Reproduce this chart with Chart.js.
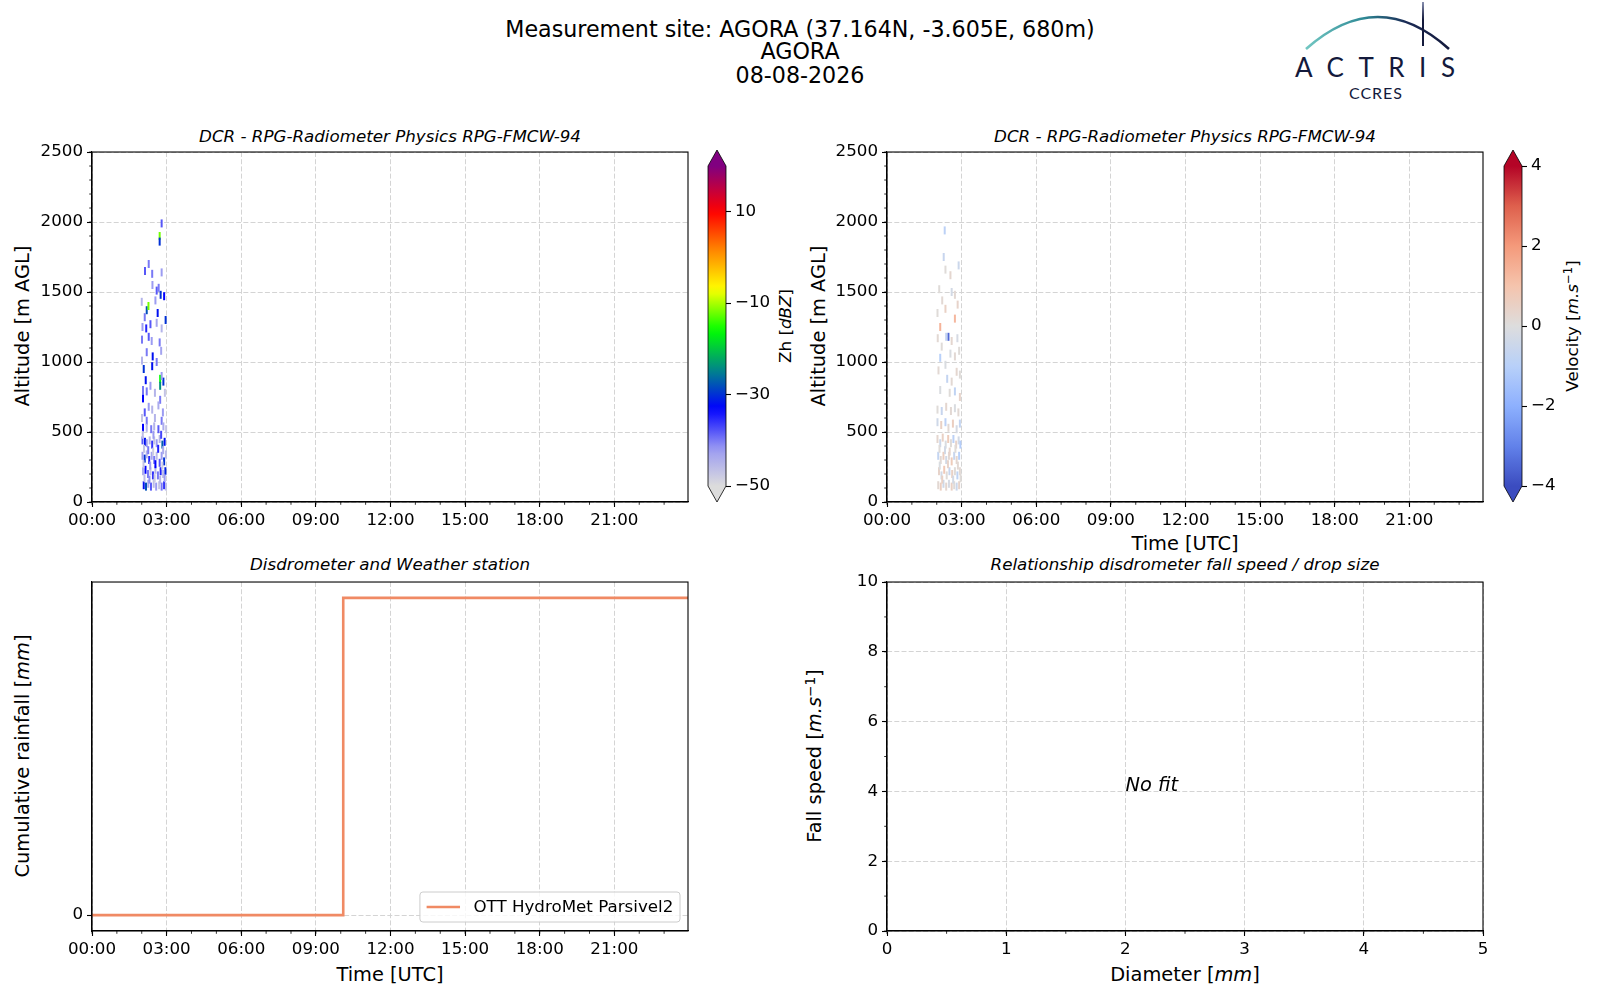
<!DOCTYPE html>
<html>
<head>
<meta charset="utf-8">
<script src="https://cdn.jsdelivr.net/npm/chart.js@4.4.1/dist/chart.umd.min.js"></script>
<style>
body { margin: 0; background: #fff; font-family: "DejaVu Sans", sans-serif; }
#page { position: relative; width: 1600px; height: 1000px; overflow: hidden; background: #fff; }
canvas { position: absolute; }
.t { position: absolute; white-space: nowrap; color: #000; line-height: 1; transform: translate(-50%, -50%); }
.r { transform: translate(-50%, -50%) rotate(-90deg); }
.ttl { font-size: 16.7px; font-style: italic; }
.lab { font-size: 19.4px; }
.big { font-size: 22.2px; }
sup { font-size: 70%; vertical-align: 0.45em; line-height: 0; }
</style>
</head>
<body>
<div id="page">
  <div class="t big" style="left:800px;top:29px">Measurement site: AGORA (37.164N, -3.605E, 680m)</div>
  <div class="t big" style="left:800px;top:50.5px">AGORA</div>
  <div class="t big" style="left:800px;top:75px">08-08-2026</div>

  <svg style="position:absolute;left:1282px;top:0" width="190" height="110" viewBox="0 0 190 110">
    <defs>
      <linearGradient id="arcG" x1="24" y1="0" x2="167" y2="0" gradientUnits="userSpaceOnUse">
        <stop offset="0" stop-color="#72c7c2"/>
        <stop offset="0.4" stop-color="#2f8a96"/>
        <stop offset="0.7" stop-color="#1a2a55"/>
        <stop offset="1" stop-color="#141a3c"/>
      </linearGradient>
      <linearGradient id="barG" x1="0" y1="2" x2="0" y2="46" gradientUnits="userSpaceOnUse">
        <stop offset="0" stop-color="#8890b0"/>
        <stop offset="0.4" stop-color="#141a3c"/>
      </linearGradient>
    </defs>
    <path d="M24 49 Q96 -15 167 49" fill="none" stroke="url(#arcG)" stroke-width="2.6"/>
    <line x1="141" y1="2" x2="141" y2="46" stroke="url(#barG)" stroke-width="2"/>
    <text x="13" y="77" font-family="Lato, 'Noto Sans', sans-serif" font-size="26" fill="#141a3c" textLength="160" lengthAdjust="spacing">ACTRIS</text>
    <text x="67" y="99" font-family="Lato, 'Noto Sans', sans-serif" font-size="16" fill="#141a3c" textLength="53" lengthAdjust="spacing">CCRES</text>
  </svg>

  <div class="t ttl" style="left:390px;top:135.5px">DCR - RPG-Radiometer Physics RPG-FMCW-94</div>
  <div class="t ttl" style="left:1185px;top:135.5px">DCR - RPG-Radiometer Physics RPG-FMCW-94</div>
  <div class="t ttl" style="left:390px;top:564px">Disdrometer and Weather station</div>
  <div class="t ttl" style="left:1185px;top:564px">Relationship disdrometer fall speed / drop size</div>

  <div class="t r lab" style="left:23px;top:326px">Altitude [m AGL]</div>
  <div class="t r lab" style="left:819px;top:326px">Altitude [m AGL]</div>
  <div class="t r lab" style="left:23px;top:756px">Cumulative rainfall [<i>mm</i>]</div>
  <div class="t r lab" style="left:815px;top:756px">Fall speed [<i>m.s</i><sup>−1</sup>]</div>
  <div class="t r lab" style="left:785px;top:326px;font-size:16.7px">Zh [<i>dBZ</i>]</div>
  <div class="t r lab" style="left:1572px;top:326px;font-size:16.7px">Velocity [<i>m.s</i><sup>−1</sup>]</div>
  <div class="t lab" style="left:1185px;top:544px">Time [UTC]</div>
  <div class="t lab" style="left:390px;top:975px">Time [UTC]</div>
  <div class="t lab" style="left:1185px;top:975px">Diameter [<i>mm</i>]</div>

  <canvas id="zhChart"></canvas>
  <canvas id="zhBar"></canvas>
  <canvas id="velChart"></canvas>
  <canvas id="velBar"></canvas>
  <canvas id="rainChart"></canvas>
  <canvas id="fallChart"></canvas>
</div>

<script>
// ---- data ----
// radar cells: time (hours UTC), altitude (m AGL), value
const zhTime = [
  2.80, 2.72, 2.72, 2.28, 2.13, 2.42, 2.80, 2.43, 2.68, 2.60,
  2.76, 2.90, 2.00, 2.20, 2.27, 2.55, 2.64, 2.12, 2.96, 2.03,
  2.18, 2.35, 2.60, 2.80, 2.01, 2.28, 2.40, 2.72, 2.20, 2.44,
  2.78, 2.01, 2.08, 2.42, 2.60, 2.74, 2.74, 2.87, 2.80, 2.16,
  2.35, 2.05, 2.05, 2.20, 2.53, 2.74, 2.93, 2.12, 2.28, 2.42,
  2.67, 2.85, 2.01, 2.20, 2.53, 2.80, 2.05, 2.20, 2.38, 2.50,
  2.67, 2.87, 2.98,
  2.03, 2.13, 2.20, 2.32, 2.42, 2.50, 2.60, 2.72, 2.83, 2.92,
  2.03, 2.12, 2.20, 2.30, 2.40, 2.50, 2.60, 2.72, 2.80, 2.90, 2.97,
  2.05, 2.15, 2.25, 2.35, 2.45, 2.55, 2.65, 2.76, 2.86, 2.95,
  2.08, 2.17, 2.26, 2.37, 2.48, 2.58, 2.70, 2.80, 2.90, 2.97,
  2.09, 2.26, 2.46, 2.66, 2.86, 2.07, 2.34, 2.55, 2.83, 2.11,
  2.31, 2.52, 2.74, 2.92, 2.04, 2.47, 2.78
];
const zhAlt = [
  1990, 1900, 1860, 1700, 1650, 1630, 1640, 1550, 1530, 1510,
  1480, 1470, 1430, 1370, 1400, 1440, 1350, 1320, 1300, 1250,
  1240, 1270, 1280, 1240, 1160, 1180, 1150, 1140, 1070, 1040,
  1080, 1010, 950, 970, 1000, 880, 830, 860, 900, 870,
  830, 800, 740, 790, 780, 730, 780, 640, 680, 660,
  690, 640, 600, 580, 600, 580, 530, 530, 520, 540,
  520, 540, 520,
  440, 430, 420, 440, 410, 440, 420, 450, 410, 430,
  330, 310, 340, 300, 330, 300, 330, 280, 330, 290, 340,
  220, 230, 200, 220, 190, 230, 190, 220, 200, 220,
  120, 110, 130, 110, 130, 110, 120, 110, 120, 110,
  380, 370, 360, 380, 370, 270, 260, 270, 260, 170,
  160, 170, 160, 170, 480, 480, 480
];
const zhVal = [
  -38, -12, -30, -40, -38, -40, -42, -42, -40, -38,
  -30, -33, -45, -28, -12, -42, -32, -40, -30, -42,
  -35, -38, -43, -45, -40, -38, -42, -40, -40, -32,
  -43, -45, -30, -32, -40, -16, -24, -30, -42, -32,
  -42, -40, -33, -40, -45, -40, -47, -38, -42, -45,
  -44, -42, -47, -40, -45, -40, -33, -45, -40, -45,
  -38, -44, -47,
  -38, -32, -42, -45, -36, -47, -42, -45, -27, -32,
  -42, -30, -45, -35, -43, -40, -46, -38, -42, -30, -46,
  -44, -33, -40, -47, -36, -45, -40, -35, -46, -31,
  -32, -28, -44, -38, -46, -42, -47, -40, -35, -46,
  -47, -40, -48, -35, -44, -47, -42, -33, -48, -46,
  -41, -48, -45, -42, -46, -42, -37
];

const velTime = [
  2.32, 2.28, 2.88, 2.55, 2.35, 2.10, 2.60, 2.73, 2.22, 2.84,
  2.03, 2.35, 2.73, 2.14, 2.47, 2.38, 2.04, 2.60, 2.83, 2.20,
  2.14, 2.55, 2.73, 2.90, 2.07, 2.35, 2.80, 2.93, 2.42, 2.60,
  2.14, 2.52, 2.73, 2.93, 2.03, 2.20, 2.38, 2.57, 2.73, 2.87,
  2.03, 2.18, 2.35, 2.47, 2.65, 2.80, 2.93,
  2.03, 2.14, 2.24, 2.36, 2.46, 2.57, 2.67, 2.78, 2.88, 2.95,
  2.06, 2.16, 2.27, 2.38, 2.49, 2.60, 2.70, 2.80, 2.90,
  2.09, 2.19, 2.30, 2.40, 2.51, 2.62, 2.73, 2.83, 2.93,
  2.06, 2.16, 2.27, 2.38, 2.49, 2.60, 2.70, 2.80, 2.90,
  2.11, 2.33, 2.52, 2.75, 2.85, 2.12, 2.45, 2.66, 2.22, 2.96
];
const velAlt = [
  1940, 1750, 1690, 1620, 1660, 1520, 1500, 1480, 1440, 1410,
  1350, 1380, 1310, 1250, 1180, 1180, 1170, 1150, 1170, 1110,
  1030, 1060, 1040, 1080, 940, 980, 930, 910, 880, 860,
  800, 780, 790, 750, 660, 650, 680, 650, 670, 640,
  570, 550, 570, 530, 560, 520, 560,
  450, 420, 460, 410, 450, 420, 450, 410, 440, 410,
  330, 300, 330, 300, 330, 290, 330, 300, 330,
  220, 190, 230, 190, 220, 200, 220, 190, 220,
  120, 110, 130, 110, 130, 110, 120, 110, 120,
  380, 370, 360, 380, 260, 260, 270, 160, 160, 170
];
const velVal = [
  -0.9, -0.6, -0.5, 0.3, 0.1, 0.1, -0.3, 0.2, 0.2, 0.4,
  0.1, 0.5, 1.3, 1.4, -3.5, -0.7, 0.2, 0.3, -0.2, 0.1,
  -1.0, -0.1, 0.2, 0.1, 0.2, -0.1, 0.3, 0.1, -0.7, 0.2,
  -0.1, 0.1, -0.8, 0.4, 0.1, -0.6, 0.3, 0.2, -0.1, 0.2,
  -0.4, 0.5, -0.9, 0.2, 0.6, -0.2, -0.7,
  0.3, -0.5, 0.5, -0.1, 0.7, 0.1, -0.9, 0.4, -0.3, -1.1,
  -0.7, 0.2, 0.6, -0.3, 0.2, 0.7, -0.6, 0.3, -1.0,
  0.4, -0.3, 0.8, 0.1, -0.6, 0.5, 0.1, -0.8, 0.2,
  0.2, 0.6, -0.4, 0.3, -0.2, 0.5, 0.1, -0.5, 0.4,
  0.1, -0.3, 0.4, 0.1, 0.2, -0.1, 0.4, -0.3, 0.5, 0.1
];

// disdrometer cumulative rainfall (single step)
const rainTime = [0, 10.1, 23.96];
const rainCum = [0, 1, 1];
const rainLabel = 'OTT HydroMet Parsivel2';

// axes
const dayRange = [0, 23.96];
const altRange = [0, 2500];
const rainRange = [-0.05, 1.05];
const rainTicks = [0];
const diamRange = [0, 5];
const speedRange = [0, 10];
const noFitAt = [2, 4];

// colour bars
const zhRange = [-50, 20];
const zhTicks = [-50, -30, -10, 10];
const velRange = [-4, 4];
const velTicks = [-4, -2, 0, 2, 4];

const zhStops = [-50, -42, -33, -25, -16, -7, 2, 10, 20];
const zhColors = ['#dcdcdc', '#9c9cf2', '#0000ff', '#00808f', '#00ff00', '#ffff00', '#ff8000', '#ff0000', '#800080'];
const velStops = [-4, -3, -2, -1, 0, 1, 2, 3, 4];
const velColors = ['#3b4cc0', '#6282ea', '#8db0fe', '#b8d0f9', '#dddddd', '#f5c4ad', '#f49a7b', '#de604d', '#b40426'];

// ---- helpers ----
Chart.defaults.font.family = '"DejaVu Sans", sans-serif';
Chart.defaults.font.size = 16.7;
Chart.defaults.color = '#000';
Chart.defaults.animation = false;
Chart.defaults.events = [];
Chart.defaults.plugins.legend.display = false;
Chart.defaults.plugins.tooltip.enabled = false;

function hexRgb(h) {
  return [parseInt(h.slice(1, 3), 16), parseInt(h.slice(3, 5), 16), parseInt(h.slice(5, 7), 16)];
}
function makeCmap(stops, colors) {
  const rgb = colors.map(hexRgb);
  return v => {
    if (v <= stops[0]) return colors[0];
    if (v >= stops[stops.length - 1]) return colors[colors.length - 1];
    let i = 0;
    while (v > stops[i + 1]) i++;
    const f = (v - stops[i]) / (stops[i + 1] - stops[i]);
    const c = rgb[i].map((a, k) => Math.round(a + (rgb[i + 1][k] - a) * f));
    return `rgb(${c[0]},${c[1]},${c[2]})`;
  };
}
const zhCmap = makeCmap(zhStops, zhColors);
const velCmap = makeCmap(velStops, velColors);

const minus = v => String(v).replace('-', '\u2212');
const hhmm = v => String(v).padStart(2, '0') + ':00';

function place(id, left, top, w, h) {
  const c = document.getElementById(id);
  c.width = w; c.height = h;
  c.style.left = left + 'px'; c.style.top = top + 'px';
  c.style.width = w + 'px'; c.style.height = h + 'px';
  return c;
}

// plot boxes
const PAD = { l: 70, t: 12, r: 14, b: 36 };
const boxZh = { left: 92, top: 150, right: 688, bottom: 502 };
const boxVel = { left: 887, top: 150, right: 1483, bottom: 502 };
const boxRain = { left: 92, top: 580, right: 688, bottom: 931 };
const boxFall = { left: 887, top: 580, right: 1483, bottom: 931 };

function panelCanvas(id, b) {
  return place(id, b.left - PAD.l, b.top - PAD.t, b.right - b.left + PAD.l + PAD.r, b.bottom - b.top + PAD.t + PAD.b);
}

function axis(range, step, fmt, horizontal) {
  return {
    type: 'linear',
    min: range[0],
    max: range[1],
    ticks: { stepSize: step, includeBounds: false, autoSkip: false, maxRotation: 0, padding: 4, callback: fmt },
    grid: { color: '#d4d4d4', lineWidth: 1, tickLength: 5, tickColor: '#000', tickWidth: 1.1 },
    border: { color: '#000', width: 1.1, dash: [5, 2.2] },
    afterFit: s => { if (horizontal) s.height = PAD.b; else s.width = PAD.l; }
  };
}

// frame, minor ticks and notes drawn on top of the axes
const decor = {
  id: 'decor',
  afterDraw(chart, args, o) {
    const { ctx, chartArea: a, scales } = chart;
    ctx.save();
    ctx.strokeStyle = '#000';
    ctx.lineWidth = 0.8;
    const minor = (sc, step, horiz) => {
      const n = Math.round((sc.max - sc.min) / step);
      for (let i = 0; i <= n; i++) {
        const v = Math.ceil(sc.min / step) * step + i * step;
        if (v > sc.max + 1e-9) break;
        const p = sc.getPixelForValue(v);
        ctx.beginPath();
        if (horiz) { ctx.moveTo(p, a.bottom); ctx.lineTo(p, a.bottom + 2.8); }
        else { ctx.moveTo(a.left, p); ctx.lineTo(a.left - 2.8, p); }
        ctx.stroke();
      }
    };
    if (o.minorX) minor(scales.x, o.minorX, true);
    if (o.minorY) minor(scales.y, o.minorY, false);
    ctx.lineWidth = 1.1;
    ctx.strokeRect(a.left, a.top, a.right - a.left, a.bottom - a.top);
    if (o.note) {
      ctx.font = 'italic 19.4px "DejaVu Sans"';
      ctx.fillStyle = '#000';
      ctx.textAlign = 'left';
      ctx.textBaseline = 'alphabetic';
      ctx.fillText(o.note, scales.x.getPixelForValue(o.noteAt[0]), scales.y.getPixelForValue(o.noteAt[1]));
    }
    ctx.restore();
  }
};

const legendBox = {
  id: 'legendBox',
  afterDatasetsDraw(chart) {
    const { ctx, chartArea: a } = chart;
    const ds = chart.data.datasets[0];
    ctx.save();
    ctx.font = '16.7px "DejaVu Sans"';
    const tw = ctx.measureText(ds.label).width;
    const pad = 6.7, hl = 33.4, gap = 13.4, h = 30;
    const w = pad + hl + gap + tw + pad;
    const x0 = a.right - 8 - w, y0 = a.bottom - 9 - h;
    ctx.beginPath();
    ctx.roundRect(x0, y0, w, h, 3);
    ctx.fillStyle = 'rgba(255,255,255,0.8)';
    ctx.fill();
    ctx.strokeStyle = '#cccccc';
    ctx.lineWidth = 1;
    ctx.stroke();
    const cy = y0 + h / 2;
    ctx.beginPath();
    ctx.moveTo(x0 + pad, cy);
    ctx.lineTo(x0 + pad + hl, cy);
    ctx.strokeStyle = ds.borderColor;
    ctx.lineWidth = ds.borderWidth;
    ctx.stroke();
    ctx.fillStyle = '#000';
    ctx.textBaseline = 'middle';
    ctx.fillText(ds.label, x0 + pad + hl + gap, cy + 1);
    ctx.restore();
  }
};

// colour bar extension triangles + outline
const cbFrame = {
  id: 'cbFrame',
  afterDatasetsDraw(chart, args, o) {
    const { ctx, chartArea: a } = chart;
    const e = (a.bottom - a.top) * 0.05, mx = (a.left + a.right) / 2;
    ctx.save();
    ctx.fillStyle = o.over;
    ctx.beginPath(); ctx.moveTo(a.left, a.top); ctx.lineTo(mx, a.top - e); ctx.lineTo(a.right, a.top); ctx.closePath(); ctx.fill();
    ctx.fillStyle = o.under;
    ctx.beginPath(); ctx.moveTo(a.left, a.bottom); ctx.lineTo(mx, a.bottom + e); ctx.lineTo(a.right, a.bottom); ctx.closePath(); ctx.fill();
    ctx.strokeStyle = '#000';
    ctx.lineWidth = 0.8;
    ctx.beginPath();
    ctx.moveTo(a.left, a.top); ctx.lineTo(mx, a.top - e); ctx.lineTo(a.right, a.top);
    ctx.lineTo(a.right, a.bottom); ctx.lineTo(mx, a.bottom + e); ctx.lineTo(a.left, a.bottom);
    ctx.closePath(); ctx.stroke();
    ctx.restore();
  }
};

// ---- radar panels ----
function radarChart(id, box, times, alts, vals, cmap, xFmt) {
  panelCanvas(id, box);
  return new Chart(document.getElementById(id), {
    type: 'scatter',
    data: {
      datasets: [{
        data: times.map((t, i) => ({ x: t, y: alts[i] })),
        pointStyle: 'line',
        pointRotation: 90,
        pointRadius: 4,
        pointBorderWidth: 2,
        pointBorderColor: c => cmap(vals[c.dataIndex]),
        pointBackgroundColor: c => cmap(vals[c.dataIndex])
      }]
    },
    options: {
      responsive: false,
      layout: { padding: { left: 0, top: PAD.t, right: PAD.r, bottom: 0 } },
      scales: {
        x: axis(dayRange, 3, xFmt, true),
        y: axis(altRange, 500, v => v, false)
      },
      plugins: { decor: { minorX: 1, minorY: 100 } }
    },
    plugins: [decor]
  });
}

function colorBar(id, left, box, range, ticks, cmap, under, over) {
  const h = box.bottom - box.top, ext = h / 1.1 * 0.05, W = 18, lp = 10, yw = 62;
  place(id, left - lp, box.top, lp + W + yw, h);
  return new Chart(document.getElementById(id), {
    type: 'bar',
    data: {
      labels: [''],
      datasets: [{
        data: [range],
        barPercentage: 1,
        categoryPercentage: 1,
        borderWidth: 0,
        backgroundColor: c => {
          const ch = c.chart, y = ch.scales.y;
          if (!ch.chartArea || !y) return 'rgba(0,0,0,0)';
          const g = ch.ctx.createLinearGradient(0, y.getPixelForValue(range[0]), 0, y.getPixelForValue(range[1]));
          for (let i = 0; i <= 40; i++) g.addColorStop(i / 40, cmap(range[0] + (range[1] - range[0]) * i / 40));
          return g;
        }
      }]
    },
    options: {
      responsive: false,
      layout: { padding: { left: lp, top: ext, right: 0, bottom: ext } },
      scales: {
        x: { display: false },
        y: {
          position: 'right',
          min: range[0],
          max: range[1],
          afterBuildTicks: s => { s.ticks = ticks.map(v => ({ value: v })); },
          afterFit: s => { s.width = yw; },
          ticks: { padding: 4, callback: minus, autoSkip: false },
          grid: { drawOnChartArea: false, tickLength: 5, tickColor: '#000', tickWidth: 1.1 },
          border: { display: false }
        }
      },
      plugins: { cbFrame: { under, over } }
    },
    plugins: [cbFrame]
  });
}

const hourLabel = v => hhmm(v);
radarChart('zhChart', boxZh, zhTime, zhAlt, zhVal, zhCmap, hourLabel);
radarChart('velChart', boxVel, velTime, velAlt, velVal, velCmap, hourLabel);
colorBar('zhBar', 708, boxZh, zhRange, zhTicks, zhCmap, zhColors[0], zhColors[zhColors.length - 1]);
colorBar('velBar', 1504, boxVel, velRange, velTicks, velCmap, velColors[0], velColors[velColors.length - 1]);

// ---- disdrometer cumulative rainfall ----
panelCanvas('rainChart', boxRain);
const rainY = axis(rainRange, 1, v => v, false);
rainY.afterBuildTicks = s => { s.ticks = rainTicks.map(v => ({ value: v })); };
new Chart(document.getElementById('rainChart'), {
  type: 'line',
  data: {
    datasets: [{
      label: rainLabel,
      data: rainTime.map((t, i) => ({ x: t, y: rainCum[i] })),
      stepped: 'before',
      borderColor: '#f08a64',
      borderWidth: 2.6,
      pointRadius: 0,
      fill: false
    }]
  },
  options: {
    responsive: false,
    layout: { padding: { left: 0, top: PAD.t, right: PAD.r, bottom: 0 } },
    scales: { x: axis(dayRange, 3, hourLabel, true), y: rainY },
    plugins: { decor: { minorX: 1 } }
  },
  plugins: [decor, legendBox]
});

// ---- fall speed vs diameter ----
panelCanvas('fallChart', boxFall);
new Chart(document.getElementById('fallChart'), {
  type: 'scatter',
  data: { datasets: [{ data: [] }] },
  options: {
    responsive: false,
    layout: { padding: { left: 0, top: PAD.t, right: PAD.r, bottom: 0 } },
    scales: {
      x: axis(diamRange, 1, v => v, true),
      y: axis(speedRange, 2, v => v, false)
    },
    plugins: { decor: { minorX: 0.5, minorY: 1, note: 'No fit', noteAt: noFitAt } }
  },
  plugins: [decor]
});
</script>
</body>
</html>
